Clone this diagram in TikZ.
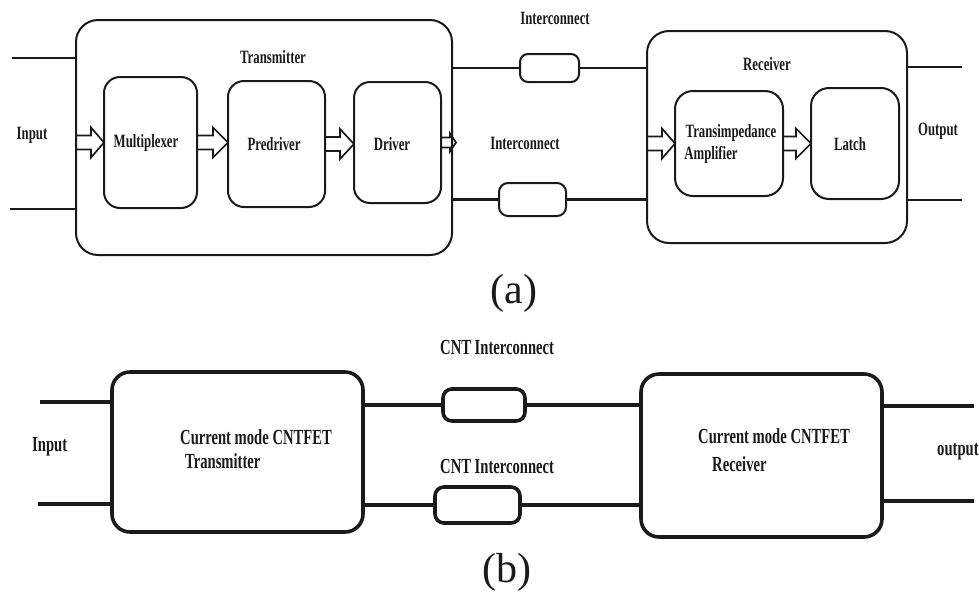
\documentclass[tikz,border=0pt]{standalone}
\usepackage{fontspec}
\setmainfont{Liberation Serif}
\newfontfamily\labfont[FakeStretch=0.68]{Liberation Serif}
\usetikzlibrary{calc}
\definecolor{ink}{HTML}{1A1A1A}
\newcommand\harrow[5]{%
  \draw[arrowline] let \p1=(#1), \p2=(#2) in
   (\x1,\y1+#3) -- (\x2-#5,\y1+#3) -- (\x2-#5,\y1+#4) -- (\x2,\y1)
   -- (\x2-#5,\y1-#4) -- (\x2-#5,\y1-#3) -- (\x1,\y1-#3) -- cycle;}
\tikzset{
  boxa/.style={draw=ink, line width=2pt, rounded corners=#1, inner sep=0pt, outer sep=0pt},
  boxb/.style={draw=ink, line width=3.6pt, rounded corners=#1, inner sep=0pt, outer sep=0pt},
  wirea/.style={draw=ink, line width=2.4pt},
  wireb/.style={draw=ink, line width=3.6pt},
  arrowline/.style={draw=ink, line width=1.7pt, line join=miter},
  laba/.style={text=ink, inner sep=0pt, anchor=base, font=\labfont\bfseries\fontsize{18.8}{22}\selectfont},
  labb/.style={text=ink, inner sep=0pt, anchor=base west, font=\labfont\bfseries\fontsize{21.5}{25}\selectfont},
  capt/.style={text=ink, inner sep=0pt, anchor=base, font=\fontsize{42}{48}\selectfont}
}
\begin{document}
\begin{tikzpicture}[x=1pt,y=-1pt]
\useasboundingbox (0,0) rectangle (979,592);
% ---------------- (a) ----------------
\node[boxa=22pt, minimum width=376pt, minimum height=235pt] (tx) at (264,137.5) {};
\node[boxa=16pt, minimum width=93pt, minimum height=131pt] (mux) at (150.5,142.5) {};
\node[boxa=16pt, minimum width=97pt, minimum height=126pt] (pred) at (276.5,144) {};
\node[boxa=16pt, minimum width=87pt, minimum height=121pt] (drv) at (397.5,142.5) {};
\node[boxa=8pt, minimum width=59pt, minimum height=28pt] (r1) at (549.5,68) {};
\node[boxa=9pt, minimum width=67pt, minimum height=33pt] (r2) at (532.5,199.5) {};
\node[boxa=22pt, minimum width=260pt, minimum height=212pt] (rx) at (777,137) {};
\node[boxa=18pt, minimum width=108pt, minimum height=105pt] (tia) at (729,143.5) {};
\node[boxa=18pt, minimum width=88pt, minimum height=111pt] (latch) at (855,143.5) {};

\coordinate (inA1) at (12,58);
\coordinate (inA2) at (10,209);
\coordinate (outA1) at (962,67);
\coordinate (outA2) at (962,200);
\draw[wirea] (inA1) -- (inA1 -| tx.west);
\draw[wirea] (inA2) -- (inA2 -| tx.west);
\draw[wirea] (tx.east |- r1.west) -- (r1.west);
\draw[wirea] (r1.east) -- (r1.east -| rx.west);
\draw[wirea] (tx.east |- r2.west) -- (r2.west);
\draw[wirea] (r2.east) -- (r2.east -| rx.west);
\draw[wirea] (outA1 -| rx.east) -- (outA1);
\draw[wirea] (outA2 -| rx.east) -- (outA2);

\harrow{tx.west |- mux.west}{mux.west}{7pt}{15pt}{13pt}
\harrow{mux.east}{pred.west}{7pt}{15pt}{15pt}
\harrow{pred.east}{drv.west}{7pt}{15pt}{14pt}
\coordinate (drvout) at ($(tx.east |- drv.east)+(4,0)$);
\harrow{drv.east}{drvout}{5pt}{9pt}{6pt}
\harrow{rx.west |- tia.west}{tia.west}{7pt}{15pt}{13pt}
\harrow{tia.east}{latch.west}{7pt}{15pt}{15pt}

\node[laba] (lTx) at (273,63) {Transmitter};
\node[laba] (lRx) at (767,70) {Receiver};
\node[laba] (lI1) at (555,24) {Interconnect};
\node[laba] (lI2) at (525,149) {Interconnect};
\node[laba] (lIn) at (32,139) {Input};
\node[laba] (lMux) at (146,147) {Multiplexer};
\node[laba] (lPre) at (274,150) {Predriver};
\node[laba] (lDrv) at (392,150) {Driver};
\node[laba] (lTia1) at (731,137) {Transimpedance};
\node[laba] (lTia2) at (711,159) {Amplifier};
\node[laba] (lLat) at (850,150) {Latch};
\node[laba] (lOut) at (938,135) {Output};
\node[capt] (capA) at (514,303) {(a)};

% ---------------- (b) ----------------
\node[boxb=18pt, minimum width=251pt, minimum height=160pt] (tx2) at (237.5,452) {};
\node[boxb=9pt, minimum width=82pt, minimum height=32pt] (rb1) at (484,405) {};
\node[boxb=9pt, minimum width=85pt, minimum height=36pt] (rb2) at (477.5,505) {};
\node[boxb=18pt, minimum width=241pt, minimum height=163pt] (rx2) at (761.5,455.5) {};

\coordinate (inB1) at (40,402);
\coordinate (inB2) at (38,504);
\coordinate (outB1) at (974,406);
\coordinate (outB2) at (974,501);
\draw[wireb] (inB1) -- (inB1 -| tx2.west);
\draw[wireb] (inB2) -- (inB2 -| tx2.west);
\draw[wireb] (tx2.east |- rb1.west) -- (rb1.west);
\draw[wireb] (rb1.east) -- (rb1.east -| rx2.west);
\draw[wireb] (tx2.east |- rb2.west) -- (rb2.west);
\draw[wireb] (rb2.east) -- (rb2.east -| rx2.west);
\draw[wireb] (outB1 -| rx2.east) -- (outB1);
\draw[wireb] (outB2 -| rx2.east) -- (outB2);

\node[labb] (lInB) at (32,451) {Input};
\node[labb] (lTx2a) at (180,444) {Current mode CNTFET};
\node[labb] (lTx2b) at (185,468) {Transmitter};
\node[labb] (lCnt1) at (440,354) {CNT Interconnect};
\node[labb] (lCnt2) at (440,473) {CNT Interconnect};
\node[labb] (lRx2a) at (698,443) {Current mode CNTFET};
\node[labb] (lRx2b) at (712,471) {Receiver};
\node[labb] (lOutB) at (937,455) {output};
\node[capt] (capB) at (507,582) {(b)};
\end{tikzpicture}
\end{document}
